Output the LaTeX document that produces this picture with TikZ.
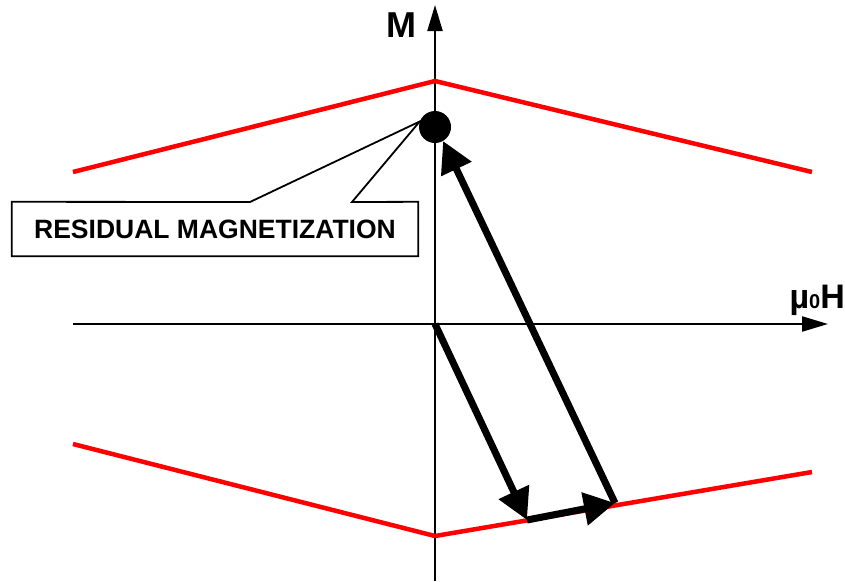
\documentclass[tikz,border=0pt]{standalone}
\usepackage{fontspec}
\setmainfont{Liberation Sans}
\usetikzlibrary{arrows.meta, positioning}

\begin{document}
\begin{tikzpicture}[
    x=1pt, y=-1pt,
    axis/.style={
        line width=2.2pt,
        -{Triangle[length=26pt, width=15pt]}
    },
    branch/.style={
        red,
        line width=4.5pt
    },
    jump/.style={
        line width=7pt,
        -{Triangle[length=31pt, width=32pt]}
    },
    pointer/.style={
        line width=1.8pt,
        line join=miter
    },
    labelbox/.style={
        fill=white,
        minimum width=406pt,
        minimum height=54pt,
        font=\bfseries\fontsize{26.5}{26.5}\selectfont
    },
    axislabel/.style={
        font=\bfseries\fontsize{36}{36}\selectfont,
        inner sep=0pt
    }
]
\useasboundingbox (0,0) rectangle (845,581);

% coordinates of the loop
\coordinate (origin) at (435,324);
\coordinate (upleft) at (73,172);
\coordinate (uptop) at (435,81);
\coordinate (upright) at (812,172);
\coordinate (lowleft) at (73,444);
\coordinate (lowbottom) at (435,536);
\coordinate (lowright) at (812,472);
\coordinate (hit) at (527,520);
\coordinate (turn) at (615,503);

% axes
\coordinate (mbot) at (435,581);
\coordinate (mtop) at (435,5);
\coordinate (hleft) at (73,324);
\coordinate (hright) at (828,324);
\draw[axis] (mbot) -- (mtop);
\draw[axis] (hleft) -- (hright);

\node[axislabel, anchor=base west] (mlabel) at (386,37) {M};
\node[axislabel, anchor=base east, font=\bfseries\fontsize{34}{34}\selectfont] (hlabel) at (845,308)
    {µ{\fontsize{20}{20}\selectfont 0}H};

% saturation branches
\draw[branch] (upleft) -- (uptop) -- (upright);
\draw[branch] (lowleft) -- (lowbottom) -- (lowright);

% remanent point
\node[circle, fill=black, minimum size=32pt, inner sep=0pt] (rem) at (435,127) {};

% callout
\node[labelbox] (callout) at (215,229) {RESIDUAL MAGNETIZATION};
\coordinate (wedgeA) at (250,202);
\coordinate (wedgeB) at (352,202);
\draw[pointer] (callout.north west) -- (wedgeA) -- (rem.160) -- (wedgeB)
    -- (callout.north east) -- (callout.south east) -- (callout.south west) -- cycle;

% field steps
\draw[jump] (origin) -- (hit);
\draw[jump] (hit) -- (turn);
\draw[jump] (turn) -- (rem.-60);

\end{tikzpicture}
\end{document}
